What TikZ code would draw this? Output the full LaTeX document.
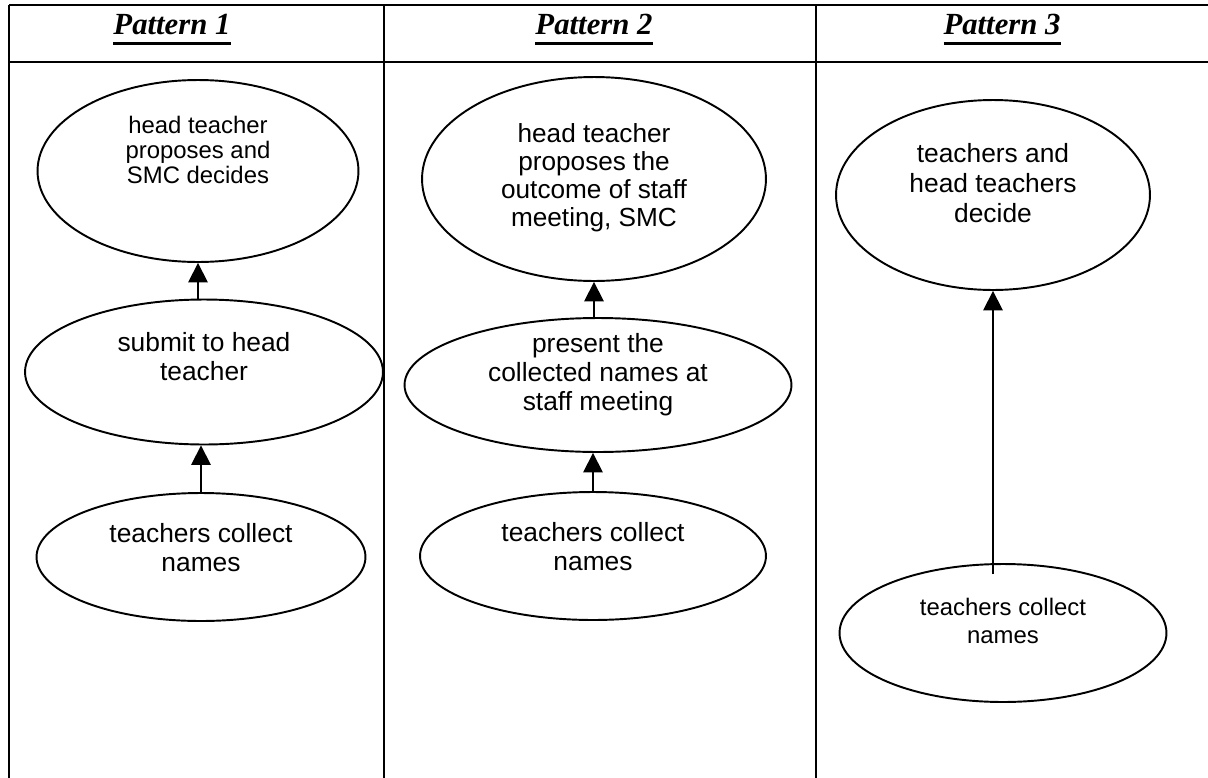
\documentclass[tikz,border=0pt]{standalone}
\usepackage{fontspec}
\setmainfont{Liberation Serif}
\newfontfamily\arialfont{Liberation Sans}
\usetikzlibrary{shapes.geometric}
\usetikzlibrary{arrows.meta}
\usetikzlibrary{positioning,calc}

\newcommand{\patternul}[1]{\setbox0\hbox{#1}\rlap{\rule[-6pt]{\wd0}{1.7pt}}\box0}

\tikzset{
   tabline/.style={line width=1.5pt},
   oval/.style={draw, ellipse, line width=1.1pt, inner sep=0pt},
   lbl/.style={align=center, inner sep=0pt,
      font=\arialfont\fontsize{15}{16.5}\selectfont},
   lblsmall/.style={font=\arialfont\fontsize{13.6}{14.4}\selectfont},
   head/.style={anchor=base, inner sep=0pt,
      font=\fontsize{17.5}{20}\selectfont\bfseries\itshape},
   flow/.style={line width=1pt, -{Triangle[width=11pt,length=11pt]}},
}

\begin{document}
\begin{tikzpicture}[x=0.02cm, y=-0.02cm]
   \useasboundingbox (0,0) rectangle (1208,778);

   % table
   \draw[tabline] (9,5) -- (1208,5);
   \draw[tabline] (9,62) -- (1208,62);
   \foreach \x in {9,384,816}
      \draw[tabline] (\x,5) -- (\x,778);

   % headers
   \node[head] (h1) at (172,34) {\patternul{Pattern 1}};
   \node[head] (h2) at (594,34) {\patternul{Pattern 2}};
   \node[head] (h3) at (1002,34) {\patternul{Pattern 3}};

   % pattern 1
   \node[oval, minimum width=6.42cm, minimum height=3.64cm] (p1top) at (198,171) {};
   \node[oval, minimum width=7.16cm, minimum height=2.9cm]  (p1mid) at (204,372) {};
   \node[oval, minimum width=6.58cm, minimum height=2.56cm] (p1bot) at (201,557) {};
   \node[lbl, lblsmall] (p1toptx) at ($(p1top)+(0,-21)$) {head teacher\\proposes and\\SMC decides};
   \node[lbl] (p1midtx) at ($(p1mid)+(0,-15)$) {submit to head\\teacher};
   \node[lbl] (p1bottx) at ($(p1bot)+(0,-9)$) {teachers collect\\names};

   \draw[flow] (p1top.south |- p1mid.north) -- (p1top.south);
   \draw[flow] (p1bot.north) -- (p1bot.north |- p1mid.south);

   % pattern 2
   \node[oval, minimum width=6.88cm, minimum height=4.08cm] (p2top) at (594,179) {};
   \node[oval, minimum width=7.74cm, minimum height=2.68cm] (p2mid) at (598,385) {};
   \node[oval, minimum width=6.92cm, minimum height=2.56cm] (p2bot) at (593,556) {};
   \node[lbl, font=\arialfont\fontsize{14.9}{15.9}\selectfont] (p2toptx) at ($(p2top)+(0,-1)$)
      {head teacher\\proposes the\\outcome of staff\\meeting, SMC};
   \node[lbl] (p2midtx) at ($(p2mid)+(0,-10)$) {present the\\collected names at\\staff meeting};
   \node[lbl] (p2bottx) at ($(p2bot)+(0,-9)$) {teachers collect\\names};

   \draw[flow] (p2top.south |- p2mid.north) -- (p2top.south);
   \draw[flow] (p2bot.north) -- (p2bot.north |- p2mid.south);

   % pattern 3
   \node[oval, minimum width=6.28cm, minimum height=3.8cm]  (p3top) at (993,195) {};
   \node[oval, minimum width=6.54cm, minimum height=2.76cm] (p3bot) at (1003,633) {};
   \node[lbl, font=\arialfont\fontsize{15}{17}\selectfont] (p3toptx) at ($(p3top)+(0,-12)$)
      {teachers and\\head teachers\\decide};
   \node[lbl, font=\arialfont\fontsize{13.6}{15.9}\selectfont] (p3bottx) at ($(p3bot)+(0,-12)$)
      {teachers collect\\names};

   \draw[flow] ($(p3top.south |- p3bot.north)+(0,11)$) -- (p3top.south);
\end{tikzpicture}
\end{document}
